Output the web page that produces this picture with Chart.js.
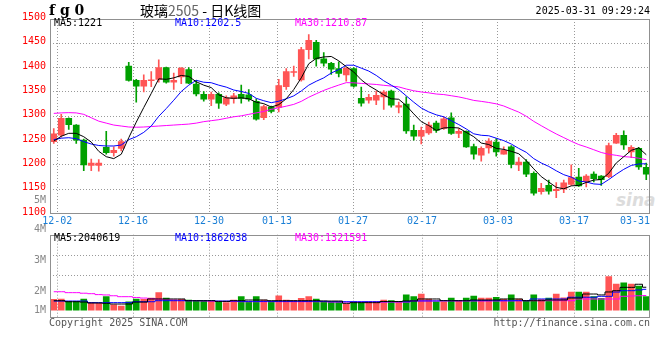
<!doctype html>
<html lang="zh-CN">
<head>
<meta charset="UTF-8">
<title>玻璃2505 - 日K线图</title>
<style>
  body { margin: 0; background: #fff; }
  #wrap { position: relative; width: 660px; height: 360px; overflow: hidden;
          font-family: "DejaVu Sans Mono", monospace; font-size: 10px; }
  .t { position: absolute; white-space: nowrap; line-height: 12px; }
  canvas { position: absolute; left: 0; }
</style>
</head>
<body>
<div id="wrap">
  <div class="t" style="left:616px;top:190px;font:italic bold 17px 'DejaVu Sans';color:#dcdcdc">sina</div>
  <canvas id="kline" width="660" height="232" style="top:0"></canvas>
  <canvas id="vol" width="660" height="138" style="top:222px"></canvas>

  <div class="t" style="left:49px;top:3px;font:bold 14px 'DejaVu Serif';line-height:14px">f g 0</div>
  <div class="t" style="left:140px;top:3px;font:14px 'Noto Sans CJK SC';line-height:14px">玻璃<span style="color:#666">2505</span> - 日K线图</div>
  <div class="t" style="right:10px;top:5px">2025-03-31 09:29:24</div>

  <div class="t" style="left:54px;top:17px;color:#000">MA5:1221</div>
  <div class="t" style="left:175px;top:17px;color:#00f">MA10:1202.5</div>
  <div class="t" style="left:295px;top:17px;color:#f0f">MA30:1210.87</div>

  <div class="t" style="left:54px;top:232px;color:#000">MA5:2040619</div>
  <div class="t" style="left:175px;top:232px;color:#00f">MA10:1862038</div>
  <div class="t" style="left:295px;top:232px;color:#f0f">MA30:1321591</div>

  <div class="t" style="left:49px;top:317px;color:#555">Copyright 2025 SINA.COM</div>
  <div class="t" style="right:10px;top:317px;color:#555">http://finance.sina.com.cn</div>
</div>

<script src="https://cdn.jsdelivr.net/npm/chart.js@4.4.1/dist/chart.umd.min.js"></script>
<script>
// Data----- (one entry per trading day, oldest first)
const open = [
  1248, 1261, 1296, 1282, 1251, 1199, 1199, 1236, 1225, 1234,
  1403, 1374, 1362, 1373, 1376, 1400, 1370, 1381, 1396, 1366,
  1345, 1335, 1345, 1325, 1336, 1345, 1344, 1331, 1297, 1319,
  1318, 1361, 1390, 1375, 1437, 1452, 1418, 1409, 1398, 1385,
  1398, 1337, 1333, 1333, 1340, 1352, 1319, 1325, 1271, 1259,
  1266, 1286, 1275, 1297, 1265, 1269, 1238, 1220, 1235, 1247,
  1222, 1237, 1200, 1206, 1183, 1145, 1158, 1147, 1150, 1160,
  1175, 1166, 1181, 1177, 1176, 1245, 1261, 1227, 1234, 1195
];
const high = [
  1275, 1304, 1297, 1283, 1253, 1212, 1211, 1269, 1237, 1253,
  1411, 1376, 1385, 1392, 1416, 1401, 1389, 1400, 1400, 1374,
  1351, 1350, 1348, 1342, 1347, 1364, 1355, 1336, 1323, 1321,
  1376, 1398, 1403, 1442, 1468, 1456, 1431, 1411, 1412, 1400,
  1400, 1360, 1345, 1352, 1353, 1354, 1329, 1340, 1282, 1278,
  1288, 1290, 1299, 1307, 1275, 1270, 1243, 1237, 1254, 1254,
  1237, 1240, 1215, 1211, 1186, 1162, 1169, 1164, 1169, 1200,
  1193, 1180, 1186, 1178, 1245, 1265, 1270, 1240, 1236, 1204
];
const low = [
  1244, 1257, 1273, 1244, 1188, 1188, 1187, 1222, 1218, 1229,
  1372, 1329, 1350, 1361, 1370, 1368, 1355, 1367, 1367, 1342,
  1331, 1322, 1316, 1322, 1327, 1327, 1331, 1292, 1293, 1307,
  1309, 1355, 1382, 1372, 1418, 1403, 1403, 1386, 1381, 1372,
  1360, 1321, 1327, 1324, 1314, 1319, 1307, 1265, 1251, 1243,
  1263, 1267, 1273, 1263, 1256, 1236, 1212, 1208, 1224, 1218,
  1222, 1194, 1188, 1176, 1138, 1140, 1140, 1133, 1143, 1158,
  1156, 1155, 1165, 1158, 1174, 1244, 1232, 1215, 1191, 1170
];
const close = [
  1264, 1296, 1283, 1251, 1200, 1204, 1204, 1225, 1230, 1248,
  1374, 1362, 1374, 1375, 1400, 1370, 1374, 1399, 1368, 1346,
  1335, 1345, 1327, 1338, 1342, 1337, 1335, 1294, 1320, 1310,
  1363, 1392, 1392, 1437, 1456, 1418, 1409, 1397, 1388, 1399,
  1362, 1327, 1339, 1343, 1350, 1323, 1322, 1270, 1259, 1271,
  1282, 1271, 1295, 1265, 1269, 1237, 1222, 1234, 1249, 1227,
  1230, 1201, 1206, 1181, 1142, 1152, 1146, 1150, 1163, 1174,
  1157, 1177, 1172, 1170, 1240, 1261, 1241, 1236, 1196, 1181
];
const ma5 = [
  1249, 1259, 1265, 1265, 1258, 1247, 1228, 1217, 1213, 1222,
  1256, 1288, 1318, 1347, 1377, 1376, 1379, 1384, 1382, 1371,
  1364, 1359, 1344, 1338, 1337, 1338, 1336, 1329, 1326, 1319,
  1324, 1336, 1355, 1379, 1408, 1419, 1422, 1423, 1414, 1402,
  1391, 1375, 1363, 1354, 1344, 1336, 1335, 1322, 1305, 1289,
  1281, 1271, 1276, 1277, 1276, 1267, 1258, 1245, 1242, 1234,
  1232, 1228, 1223, 1209, 1192, 1176, 1165, 1154, 1151, 1157,
  1158, 1164, 1169, 1170, 1183, 1204, 1217, 1230, 1235, 1221
];
const ma10 = [
  1252, 1255, 1256, 1254, 1248, 1243, 1240, 1239, 1239, 1241,
  1252, 1258, 1267, 1280, 1300, 1316, 1333, 1351, 1364, 1374,
  1370, 1369, 1364, 1360, 1354, 1351, 1347, 1337, 1332, 1328,
  1331, 1336, 1342, 1352, 1364, 1372, 1379, 1389, 1396, 1405,
  1405, 1399, 1393, 1384, 1373, 1364, 1355, 1342, 1329, 1317,
  1309, 1303, 1299, 1291, 1283, 1274, 1264, 1261, 1260, 1255,
  1250, 1243, 1234, 1226, 1213, 1204, 1197, 1188, 1180, 1175,
  1167, 1165, 1161, 1160, 1170, 1181, 1191, 1199, 1202, 1202.5
];
const ma30 = [
  1306, 1307, 1307.5, 1307, 1304, 1297, 1290, 1286, 1282, 1280,
  1278, 1277.5, 1278, 1279, 1280, 1281, 1282, 1283, 1284, 1286,
  1289, 1291, 1293, 1296, 1299, 1301, 1304, 1307, 1310, 1314.3,
  1317.6, 1320.8, 1324.5, 1330.7, 1339.2, 1346.3, 1353.2, 1358.9, 1364.2, 1369.2,
  1368.8, 1367.6, 1366.5, 1365.4, 1363.7, 1362.2, 1360.4, 1356.1, 1352.5, 1350,
  1348.2, 1345.8, 1344.7, 1342.3, 1339.8, 1336.5, 1332.7, 1330.7, 1328.4, 1325.6,
  1321.2, 1314.8, 1308.6, 1300.1, 1289.6, 1280.7, 1272, 1263.7, 1256.2, 1248.7,
  1241.9, 1236.9, 1231.3, 1225.6, 1221.9, 1219.8, 1217.1, 1216, 1213.9, 1210.87
];
// volume in millions of lots
const volume = [
  0.99, 1.02, 0.82, 0.82, 1.02, 0.70, 0.64, 1.22, 0.50, 0.41,
  0.78, 1.02, 0.99, 1.10, 1.57, 1.10, 0.93, 0.99, 0.93, 0.87,
  0.82, 0.82, 0.78, 0.70, 0.93, 1.22, 0.78, 1.22, 0.93, 0.82,
  1.30, 0.93, 0.87, 1.08, 1.22, 1.02, 0.78, 0.78, 0.78, 0.58,
  0.78, 0.70, 0.78, 0.78, 0.93, 0.87, 0.76, 1.37, 1.22, 1.45,
  1.02, 0.78, 0.78, 1.10, 0.82, 1.10, 1.28, 1.10, 1.10, 1.17,
  0.99, 1.37, 1.02, 0.82, 1.37, 0.99, 1.10, 1.45, 1.13, 1.63,
  1.63, 1.63, 1.22, 1.08, 2.96, 2.32, 2.43, 2.32, 2.15, 1.22
];
const vma5 = [
  0.87, 0.87, 0.78, 0.78, 0.75, 0.67, 0.67, 0.64, 0.58, 0.58,
  0.58, 0.75, 0.75, 1.02, 1.02, 1.02, 1.02, 1.02, 0.87, 0.87,
  0.87, 0.87, 0.81, 0.81, 0.87, 0.87, 0.93, 0.93, 0.93, 0.87,
  0.87, 0.87, 0.87, 0.87, 0.87, 0.87, 0.85, 0.84, 0.84, 0.64,
  0.70, 0.70, 0.70, 0.70, 0.80, 0.80, 0.80, 0.85, 0.85, 1.02,
  1.02, 1.02, 0.87, 0.87, 0.87, 0.87, 0.93, 0.93, 0.93, 0.93,
  1.02, 1.02, 1.02, 0.87, 0.87, 0.87, 0.93, 0.93, 0.93, 1.10,
  1.10, 1.45, 1.45, 1.37, 1.63, 1.74, 2.03, 2.03, 2.30, 2.04
];
const vma10 = [
  0.84, 0.84, 0.84, 0.84, 0.84, 0.70, 0.70, 0.70, 0.70, 0.70,
  0.70, 0.78, 0.78, 0.78, 0.87, 0.87, 0.87, 0.87, 0.87, 0.87,
  0.87, 0.87, 0.84, 0.84, 0.84, 0.81, 0.81, 0.81, 0.81, 0.81,
  0.81, 0.81, 0.81, 0.81, 0.81, 0.81, 0.81, 0.78, 0.78, 0.78,
  0.78, 0.78, 0.78, 0.78, 0.78, 0.78, 0.78, 0.78, 0.85, 0.85,
  0.85, 0.85, 0.87, 0.87, 0.87, 0.87, 0.87, 0.87, 0.87, 0.87,
  0.87, 0.87, 0.87, 0.87, 1.02, 1.02, 1.02, 1.02, 1.02, 1.17,
  1.17, 1.17, 1.17, 1.25, 1.25, 1.62, 1.74, 1.74, 1.80, 1.86
];
const vma30 = [
  1.65, 1.65, 1.57, 1.57, 1.52, 1.48, 1.40, 1.37, 1.30, 1.22,
  1.22, 1.15, 1.10, 1.05, 1.00, 0.95, 0.93, 0.90, 0.87, 0.87,
  0.85, 0.83, 0.81, 0.81, 0.80, 0.78, 0.78, 0.78, 0.78, 0.78,
  0.78, 0.78, 0.78, 0.78, 0.78, 0.78, 0.78, 0.75, 0.75, 0.75,
  0.75, 0.75, 0.75, 0.75, 0.75, 0.75, 0.75, 0.75, 0.85, 0.85,
  0.85, 0.85, 0.85, 0.85, 0.85, 0.85, 0.85, 0.85, 0.85, 0.85,
  0.85, 0.85, 0.87, 0.87, 0.87, 0.87, 0.87, 0.87, 0.87, 0.87,
  1.02, 1.02, 1.02, 1.02, 1.02, 1.02, 1.25, 1.28, 1.30, 1.32
];
// tick labels (date ticks are given in day-index units)
const dateTickPos = [0.47, 10.57, 20.7, 29.77, 39.9, 49.1, 59.23, 69.37, 77.5];
const dateTickLabels = ['12-02', '12-16', '12-30', '01-13', '01-27', '02-17', '03-03', '03-17', '03-31'];
const priceTicks = [1500, 1450, 1400, 1350, 1300, 1250, 1200, 1150, 1124, 1100];
const priceTickLabels = ['1500', '1450', '1400', '1350', '1300', '1250', '1200', '1150', '5M', '1100'];
const volTicks = [7.06, 4.84, 4.35, 3.10, 1.71, 0];
const volTickLabels = ['4M', '', '3M', '', '2M', '1M'];
// Data-----

const RED = '#ff5555', GREEN = '#00a000', GRID = '#999';
const MONO = {family: 'DejaVu Sans Mono', size: 10};
const candleColors = close.map((c, i) => c >= open[i] ? RED : GREEN);
const pts = arr => arr.map((v, i) => ({x: i, y: v}));

// grey box round the plot area
const frame = {
  id: 'frame',
  afterDraw(chart) {
    const {ctx, chartArea: a} = chart;
    ctx.save();
    ctx.strokeStyle = '#909090';
    ctx.lineWidth = 1;
    ctx.strokeRect(Math.round(a.left) + 0.5, Math.round(a.top) + 0.5,
                   Math.round(a.width) - 1, Math.round(a.height) - 1);
    ctx.restore();
  }
};

const xScale = (showLabels) => ({
  type: 'linear', min: -0.5, max: 79.5, offset: false,
  afterBuildTicks: s => { s.ticks = dateTickPos.map(v => ({value: v})); },
  afterFit: s => { s.height = showLabels ? 18.4 : 0; },
  ticks: {
    display: showLabels, autoSkip: false, maxRotation: 0, padding: 2,
    color: '#1a7fd6', font: MONO,
    callback: (v, i) => dateTickLabels[i]
  },
  grid: {
    drawTicks: false, offset: false,
    color: c => c.index < dateTickPos.length - 1 ? GRID : 'transparent'
  },
  border: {display: false, dash: [1, 2]}
});

const lineDs = (label, arr, color, extra) => Object.assign({
  type: 'line', label, data: pts(arr), borderColor: color, borderWidth: 1,
  pointRadius: 0, tension: 0, order: 0
}, extra || {});

// Candles + price MAs
new Chart(document.getElementById('kline'), {
  type: 'bar',
  data: {
    datasets: [
      lineDs('MA5', ma5, '#000'),
      lineDs('MA10', ma10, '#00f'),
      lineDs('MA30', ma30, '#f0f'),
      {
        label: 'body', order: 1, grouped: false, barThickness: 6,
        data: open.map((o, i) => ({x: i, y: [o, close[i]]})),
        backgroundColor: candleColors
      },
      {
        label: 'wick', order: 2, grouped: false, barThickness: 1,
        data: low.map((l, i) => ({x: i, y: [l, high[i]]})),
        backgroundColor: candleColors
      }
    ]
  },
  options: {
    responsive: false,
    animation: false,
    layout: {padding: {top: 19, right: 10, left: 0, bottom: 0}},
    plugins: {legend: {display: false}, tooltip: {enabled: false}},
    scales: {
      x: xScale(true),
      y: {
        min: 1100, max: 1500,
        afterBuildTicks: s => { s.ticks = priceTicks.map(v => ({value: v})); },
        afterFit: s => { s.width = 50; },
        ticks: {
          autoSkip: false, padding: 4, labelOffset: -1.5, font: MONO,
          color: c => priceTickLabels[c.index].endsWith('M') ? '#888' : '#f00',
          callback: (v, i) => priceTickLabels[i]
        },
        grid: {
          drawTicks: false,
          color: c => {
            const v = c.tick.value;
            return v > 1100 && v < 1500 && v % 50 === 0 ? GRID : 'transparent';
          }
        },
        border: {display: false, dash: [1, 2]}
      }
    }
  },
  plugins: [frame]
});

// Volume + volume MAs
new Chart(document.getElementById('vol'), {
  type: 'bar',
  data: {
    datasets: [
      lineDs('MA5', vma5, '#000', {stepped: 'middle'}),
      lineDs('MA10', vma10, '#00f', {stepped: 'middle'}),
      lineDs('MA30', vma30, '#f0f', {stepped: 'middle'}),
      {
        label: 'volume', order: 1, grouped: false, barThickness: 6,
        data: pts(volume), backgroundColor: candleColors
      }
    ]
  },
  options: {
    responsive: false,
    animation: false,
    layout: {padding: {top: 12.7, right: 10, left: 0, bottom: 42}},
    plugins: {legend: {display: false}, tooltip: {enabled: false}},
    scales: {
      x: xScale(false),
      y: {
        min: -0.635, max: 6.61,
        afterBuildTicks: s => { s.ticks = volTicks.map(v => ({value: v})); },
        afterFit: s => { s.width = 50; },
        ticks: {
          autoSkip: false, padding: 4, font: MONO, color: '#888',
          callback: (v, i) => volTickLabels[i]
        },
        grid: {
          drawTicks: false,
          color: c => volTickLabels[c.index] === '' ? GRID : 'transparent'
        },
        border: {display: false, dash: [1, 2]}
      }
    }
  },
  plugins: [frame]
});
</script>
</body>
</html>
